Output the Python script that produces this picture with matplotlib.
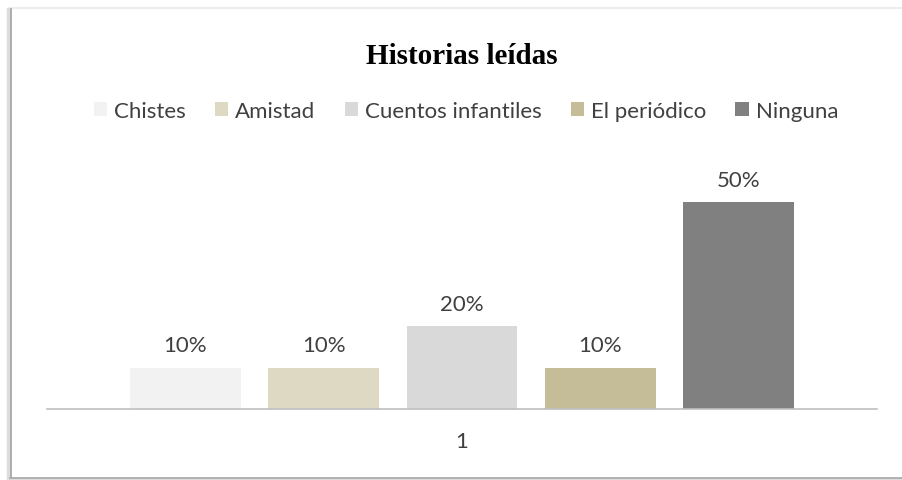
import matplotlib.pyplot as plt
from matplotlib.lines import Line2D

# Data
categories = ["Chistes", "Amistad", "Cuentos infantiles", "El periódico", "Ninguna"]
values = [10, 10, 20, 10, 50]
colors = ["#f2f2f2", "#ddd9c3", "#d9d9d9", "#c4bd97", "#808080"]
group_label = "1"

W, H = 902, 481
fig = plt.figure(figsize=(W / 100, H / 100), dpi=100)


def px_line(x0, y0, x1, y1, color, lw):
    # line in pixel coordinates measured from the top-left corner
    fig.lines.append(Line2D([x0 / W, x1 / W], [1 - y0 / H, 1 - y1 / H],
                            transform=fig.transFigure, color=color, lw=lw, zorder=-1))


# chart frame: faint top, shaded left edge, grey bottom
px_line(10, 8.5, 902, 8.5, "#ececec", 1.5)
px_line(8, 10, 8, 479, "#dddddd", 2.5)
px_line(10.5, 10, 10.5, 478, "#a0a0a0", 1.2)
px_line(10, 480, 902, 480, "#dddddd", 1.5)
px_line(10, 478.5, 902, 478.5, "#a6a6a6", 1.2)

ax = fig.add_axes([47 / W, 71 / H, 830 / W, 248.4 / H])
ax.set_facecolor("none")
x = list(range(len(values)))
bars = ax.bar(x, values, width=0.8, color=colors, label=categories, zorder=2)
for xi, v in zip(x, values):
    ax.text(xi, v + 3, f"{v}%", ha="center", va="bottom", fontsize=16,
            family="Lato", color="#404040")

ax.set_xlim(-1, 5)
ax.set_ylim(0, 60)
ax.set_yticks([])
ax.set_xticks([])
for s in ["top", "right", "left"]:
    ax.spines[s].set_visible(False)
ax.spines["bottom"].set_color("#bfbfbf")
ax.spines["bottom"].set_linewidth(1.2)

fig.text(462 / W, 1 - 442 / H, group_label, ha="center", va="center",
         fontsize=16, family="Lato", color="#404040")

fig.text(462 / W, 1 - 57 / H, "Historias leídas", ha="center", va="center",
         fontsize=21, family="Liberation Serif", weight="bold", color="#000000")

leg = fig.legend(handles=bars.patches, labels=categories, loc="center",
                 bbox_to_anchor=(466 / W, 1 - 112 / H), ncol=5, frameon=False,
                 prop={"family": "Lato", "size": 16}, handlelength=0.6, handleheight=0.6,
                 handletextpad=0.32, columnspacing=1.3)
for t in leg.get_texts():
    t.set_color("#404040")

fig.savefig("out.png", dpi=100)
